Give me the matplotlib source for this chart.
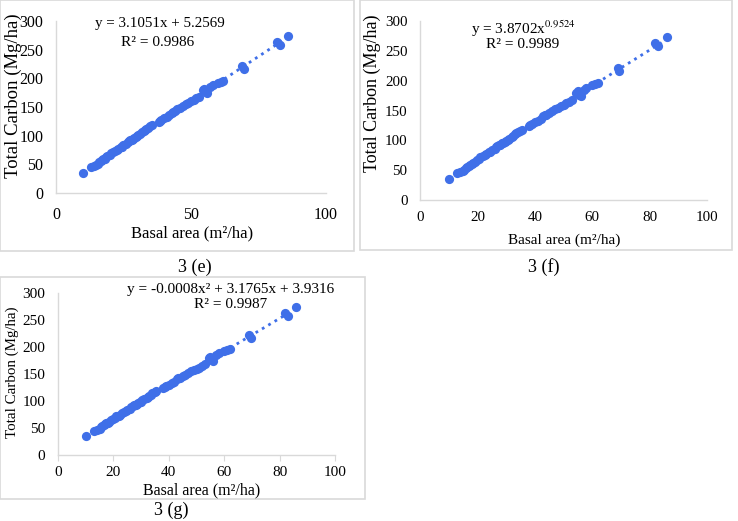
import numpy as np
import matplotlib
matplotlib.use("Agg")
import matplotlib.pyplot as plt
from matplotlib.patches import Rectangle

plt.rcParams['font.family'] = ['Liberation Serif', 'DejaVu Serif']
plt.rcParams['mathtext.fontset'] = 'stix'

# basal area (m2/ha) and total carbon (Mg/ha)
basal = [10, 13, 14, 15, 15.5, 16, 16.5, 17, 17.5, 18, 18.5, 19, 20, 20.5, 21,
         22, 22.5, 23, 24, 24.5, 25, 26, 26.5, 27, 27.5, 28, 28.5, 29, 29.5, 30,
         30.5, 31, 32, 32.5, 33, 33.5, 34, 35, 35.5, 38, 38.5, 39, 40, 41, 42,
         43, 43.5, 44, 45, 46, 47, 48, 49, 50, 51, 52, 53, 54.5, 55, 55.5,
         56, 57, 58, 60, 61, 62, 69, 69.5, 82, 83, 86]
carbon = [35, 45, 47, 49, 51, 54, 55, 57, 59, 60, 62, 64, 67, 69, 72,
          73, 75, 77, 80, 81, 83, 86, 89, 91, 92, 93, 95, 96, 98, 99,
          101, 103, 106, 108, 110, 112, 114, 116, 118, 124, 126, 127, 130, 133, 136,
          140, 142, 143, 146, 149, 152, 155, 157, 160, 162, 165, 168, 180, 182, 176,
          174, 185, 188, 192, 194, 196, 222, 217, 263, 258, 274]

# trendline coefficients shown on the chart
lin_coef = [3.1051, 5.2569]
pow_coef = [3.8702, 0.9524]
poly_coef = [-0.0008, 3.1765, 3.9316]

blue = '#3f6fe8'
grey = '#d9d9d9'
W, H = 738, 521

fig = plt.figure(figsize=(W / 100, H / 100), dpi=100)


def px_axes(left, right, top, bottom):
    return fig.add_axes([left / W, 1 - bottom / H, (right - left) / W, (bottom - top) / H])


def txt(x, y, s, size, **kw):
    fig.text(x / W, 1 - y / H, s, fontsize=size, ha='center', va='center', **kw)


def box(x0, y0, x1, y1):
    fig.patches.append(Rectangle((x0 / W, 1 - y1 / H), (x1 - x0) / W, (y1 - y0) / H,
                                 transform=fig.transFigure, fill=False,
                                 edgecolor=grey, linewidth=1.2))


def style(ax, xticks, fs, xticklen=0, xpad=8):
    ax.set_xlim(0, 100)
    ax.set_ylim(0, 300)
    ax.set_xticks(xticks)
    ax.set_yticks(range(0, 301, 50))
    for s in ['top', 'right']:
        ax.spines[s].set_visible(False)
    for s in ['left', 'bottom']:
        ax.spines[s].set_color(grey)
        ax.spines[s].set_linewidth(1.0)
    ax.tick_params(axis='y', length=0, labelsize=fs, pad=9)
    ax.tick_params(axis='x', length=xticklen, color=grey, labelsize=fs, pad=xpad)
    ax.patch.set_alpha(0)


xs = np.linspace(min(basal), max(basal), 200)

# 3 (e) linear
box(0, 0, 354, 251)
ax = px_axes(56, 326, 21, 193)
style(ax, [0, 50, 100], 11.5, xpad=10)
ax.plot(xs, lin_coef[0] * xs + lin_coef[1], ':', color=blue, lw=2)
ax.scatter(basal, carbon, s=44, color=blue, zorder=3, linewidths=0)
txt(13, 96, 'Total Carbon (Mg/ha)', 13.5, rotation=90)
txt(192, 233, 'Basal area (m²/ha)', 12)
txt(160, 24, 'y = 3.1051x + 5.2569', 10.8)
txt(158, 42, 'R² = 0.9986', 11)
txt(195, 267, '3 (e)', 13)

# 3 (f) power
box(360, 0, 732, 250)
ax = px_axes(420, 707, 21, 200)
style(ax, range(0, 101, 20), 10.8)
ax.plot(xs, pow_coef[0] * xs ** pow_coef[1], ':', color=blue, lw=2)
ax.scatter(basal, carbon, s=44, color=blue, zorder=3, linewidths=0)
txt(372, 93, 'Total Carbon (Mg/ha)', 13, rotation=90)
txt(564, 240, 'Basal area (m²/ha)', 11)
txt(523, 29, r'y = 3.8702x$^{0.9524}$', 11)
txt(523, 45, 'R² = 0.9989', 11)
txt(544, 267, '3 (f)', 13)

# 3 (g) polynomial
box(0, 277, 365, 499)
ax = px_axes(58, 335, 293, 455)
style(ax, range(0, 101, 20), 11, xticklen=4, xpad=4)
ax.plot(xs, poly_coef[0] * xs ** 2 + poly_coef[1] * xs + poly_coef[2], ':', color=blue, lw=2)
ax.scatter(basal, carbon, s=44, color=blue, zorder=3, linewidths=0)
txt(12, 372, 'Total Carbon (Mg/ha)', 10.8, rotation=90)
txt(202, 490, 'Basal area (m²/ha)', 11.5)
txt(231, 289, 'y = -0.0008x² + 3.1765x + 3.9316', 11)
txt(231, 305, 'R² = 0.9987', 11)
txt(171, 510, '3 (g)', 13)

fig.savefig('out.png', dpi=100)
